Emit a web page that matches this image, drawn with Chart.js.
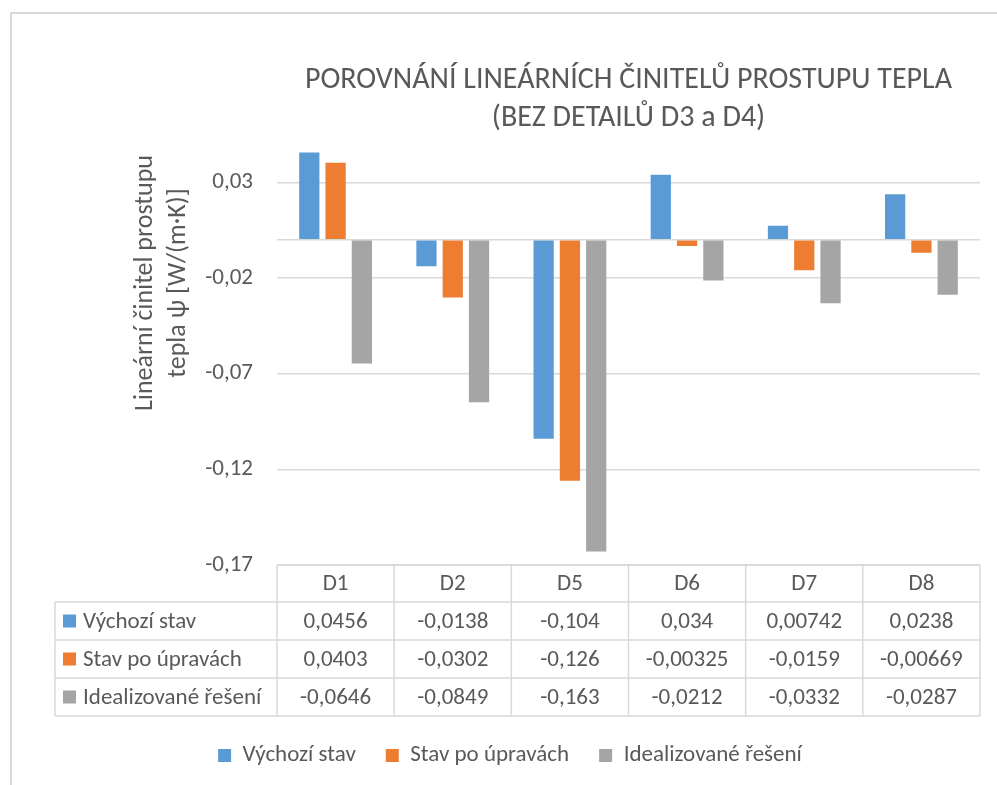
<!DOCTYPE html>
<html>
<head>
<meta charset="utf-8">
<script src="https://cdn.jsdelivr.net/npm/chart.js@4/dist/chart.umd.min.js"></script>
<style>
  html, body { margin: 0; padding: 0; background: #fff; overflow: hidden; }
  #frame { position: absolute; left: 10px; top: 12px; width: 1000px; height: 800px;
           border-left: 2px solid #d9d9d9; border-top: 2px solid #d9d9d9; }
  #wrap { position: absolute; left: 0; top: 0; width: 997px; height: 777px; }
</style>
</head>
<body>
<div id="frame"></div>
<div id="wrap"><canvas id="psi"></canvas></div>
<script>
const details = ['D1', 'D2', 'D5', 'D6', 'D7', 'D8'];
const vychoziStav = [0.0456, -0.0138, -0.104, 0.034, 0.00742, 0.0238];
const stavPoUpravach = [0.0403, -0.0302, -0.126, -0.00325, -0.0159, -0.00669];
const idealizovane = [-0.0646, -0.0849, -0.163, -0.0212, -0.0332, -0.0287];
const seriesNames = ['Výchozí stav', 'Stav po úpravách', 'Idealizované řešení'];
const yTicks = [-0.17, -0.12, -0.07, -0.02, 0, 0.03];

const colors = ['#5B9BD5', '#ED7D31', '#A5A5A5'];
const textColor = '#595959';
const lineColor = '#d9d9d9';
const bodyFont = "Carlito, Calibri, Lato, sans-serif";

const fmt = v => String(v).replace('.', ',');

// rotated two-line axis title, centred like in the original
const axisTitlePlugin = {
  id: 'axisTitle',
  beforeDraw(chart) {
    const ctx = chart.ctx;
    ctx.save();
    ctx.fillStyle = textColor;
    ctx.font = '26px ' + bodyFont;
    ctx.textAlign = 'center';
    ctx.textBaseline = 'middle';
    ctx.translate(161, 283);
    ctx.rotate(-Math.PI / 2);
    ctx.fillText('Lineární činitel prostupu', 0, -16);
    ctx.fillText('tepla ψ [W/(m·K)]', 0, 17);
    ctx.restore();
  }
};

// data table under the plot
const tablePlugin = {
  id: 'dataTable',
  afterDraw(chart) {
    const ctx = chart.ctx;
    const xs = chart.scales.x;
    const area = chart.chartArea;
    const colW = (area.right - area.left) / details.length;
    const rows = [area.bottom, area.bottom + 37, area.bottom + 75, area.bottom + 113, area.bottom + 151];
    const labelLeft = 55;
    const series = [vychoziStav, stavPoUpravach, idealizovane];

    ctx.save();
    ctx.strokeStyle = lineColor;
    ctx.lineWidth = 1.5;
    ctx.beginPath();
    ctx.moveTo(area.left, rows[0]);
    ctx.lineTo(area.right, rows[0]);
    for (let r = 1; r < rows.length; r++) {
      ctx.moveTo(labelLeft, rows[r]);
      ctx.lineTo(area.right, rows[r]);
    }
    for (let c = 0; c <= details.length; c++) {
      const x = area.left + c * colW;
      ctx.moveTo(x, rows[0]);
      ctx.lineTo(x, rows[4]);
    }
    ctx.moveTo(labelLeft, rows[1]);
    ctx.lineTo(labelLeft, rows[4]);
    ctx.stroke();

    ctx.font = '23px ' + bodyFont;
    ctx.fillStyle = textColor;
    ctx.textBaseline = 'middle';
    ctx.textAlign = 'center';
    details.forEach((d, i) => {
      const cx = xs.getPixelForValue(i);
      ctx.fillText(d, cx, (rows[0] + rows[1]) / 2 + 1);
      series.forEach((s, k) => {
        ctx.fillText(fmt(s[i]), cx, (rows[k + 1] + rows[k + 2]) / 2 + 1);
      });
    });
    ctx.textAlign = 'left';
    seriesNames.forEach((name, k) => {
      const cy = (rows[k + 1] + rows[k + 2]) / 2;
      ctx.fillStyle = colors[k];
      ctx.fillRect(63, cy - 6.5, 13, 13);
      ctx.fillStyle = textColor;
      ctx.fillText(name, 83, cy + 1);
    });
    ctx.restore();
  }
};

new Chart(document.getElementById('psi'), {
  type: 'bar',
  data: {
    labels: details,
    datasets: [{
      label: seriesNames[0],
      data: vychoziStav,
      backgroundColor: colors[0]
    }, {
      label: seriesNames[1],
      data: stavPoUpravach,
      backgroundColor: colors[1]
    }, {
      label: seriesNames[2],
      data: idealizovane,
      backgroundColor: colors[2]
    }]
  },
  options: {
    responsive: true,
    maintainAspectRatio: false,
    animation: false,
    categoryPercentage: 0.673,
    barPercentage: 0.77,
    layout: { padding: { left: 40, right: 17, top: 0, bottom: 0 } },
    plugins: {
      title: {
        display: true,
        fullSize: false,
        text: ['POROVNÁNÍ LINEÁRNÍCH ČINITELŮ PROSTUPU TEPLA', '(BEZ DETAILŮ D3 a D4)'],
        color: textColor,
        font: { family: bodyFont, size: 30, weight: 'normal', lineHeight: 1.27 },
        padding: { top: 61, bottom: 7 }
      },
      legend: {
        position: 'bottom',
        labels: {
          boxWidth: 13,
          boxHeight: 13,
          padding: 30,
          color: textColor,
          font: { family: bodyFont, size: 23 }
        }
      },
      tooltip: { enabled: false }
    },
    scales: {
      x: {
        grid: { display: false },
        border: { display: false },
        ticks: { display: false },
        afterFit: s => { s.height = 149; }
      },
      y: {
        min: -0.17,
        max: 0.05,
        afterBuildTicks: s => { s.ticks = yTicks.map(v => ({ value: v })); },
        afterFit: s => { s.width = 237; },
        grid: { color: lineColor, lineWidth: 1.5, drawTicks: false },
        border: { display: false },
        ticks: {
          padding: 24,
          color: textColor,
          font: { family: bodyFont, size: 23 },
          callback: v => (v === 0 ? '' : v.toFixed(2).replace('.', ','))
        }
      }
    }
  },
  plugins: [axisTitlePlugin, tablePlugin]
});
</script>
</body>
</html>
